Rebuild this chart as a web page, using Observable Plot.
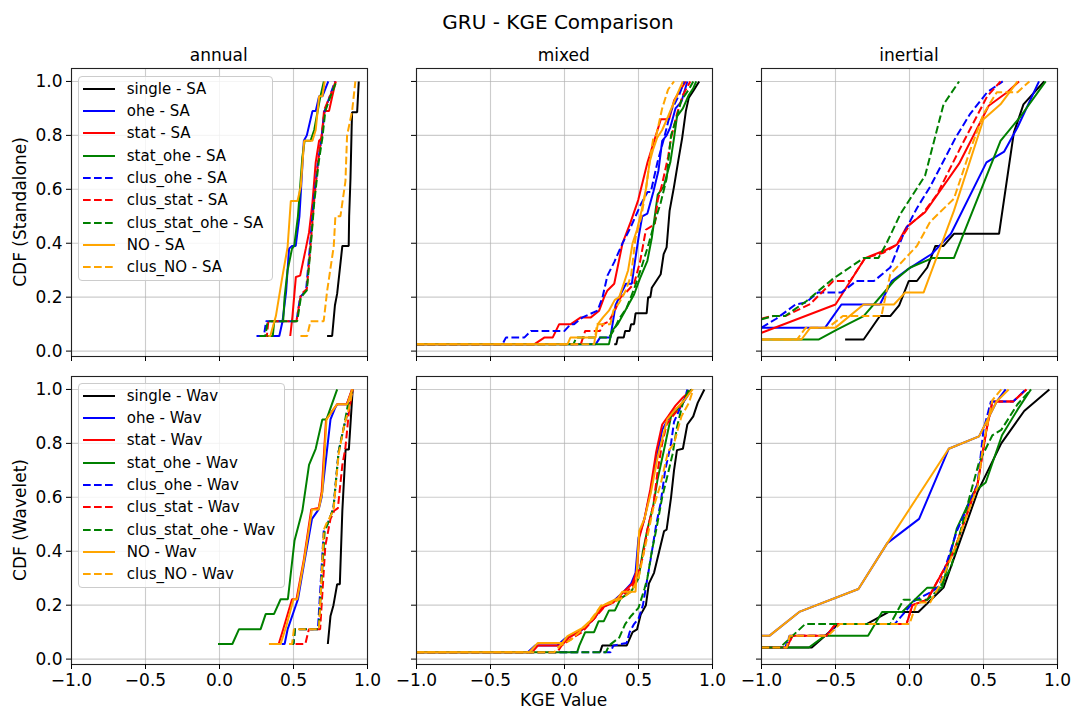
<!DOCTYPE html>
<html><head><meta charset="utf-8">
<script src="https://cdn.jsdelivr.net/npm/d3@7"></script>
<script src="https://cdn.jsdelivr.net/npm/@observablehq/plot@0.6"></script>
<style>
body{margin:0;background:#fff;}
#fig{position:relative;width:1073px;height:709px;font-family:"DejaVu Sans",sans-serif;color:#000;overflow:hidden;background:#fff}
.t{position:absolute;white-space:nowrap;transform:translate(-50%,-50%);line-height:1}
.leg{position:absolute;background:rgba(255,255,255,0.8);border:1px solid #cccccc;border-radius:4px;padding:1px 9px 2px 4px;font-size:15px}
.leg .row{height:22.3px;display:flex;align-items:center;white-space:nowrap}
.leg svg{margin-right:11.5px;flex:none}
</style></head><body><div id="fig"></div><script>
// ---- categories / styles ----
const series = ["single","ohe","stat","stat_ohe","clus_ohe","clus_stat","clus_stat_ohe","NO","clus_NO"];
const colors = ["black","blue","red","green","blue","red","green","orange","orange"];
const dashed = [false,false,false,false,true,true,true,false,true];
const columns = ["annual","mixed","inertial"];
const rowLabels = ["CDF (Standalone)","CDF (Wavelet)"];
const rowSuffix = ["SA","Wav"];
const xTicks = [-1,-0.5,0,0.5,1];
const yTicks = [0,0.2,0.4,0.6,0.8,1.0];

// ---- series values: [KGE, CDF] points, in the order of `series` ----
const annualSA = [
 [[0.727,0.056],[0.761,0.056],[0.78,0.17],[0.795,0.213],[0.83,0.39],[0.873,0.39],[0.876,0.5],[0.885,0.64],[0.893,0.83],[0.896,0.886],[0.93,0.886],[0.941,1.0]],
 [[0.348,0.056],[0.404,0.056],[0.426,0.111],[0.45,0.22],[0.47,0.38],[0.49,0.39],[0.515,0.39],[0.54,0.5],[0.57,0.78],[0.59,0.8],[0.628,0.89],[0.65,0.89],[0.673,0.945],[0.695,0.945],[0.735,1.0]],
 [[0.478,0.056],[0.493,0.13],[0.516,0.275],[0.545,0.28],[0.583,0.38],[0.605,0.44],[0.628,0.55],[0.65,0.7],[0.673,0.78],[0.69,0.79],[0.706,0.89],[0.74,0.89],[0.762,0.945],[0.785,1.0]],
 [[0.31,0.056],[0.36,0.056],[0.37,0.111],[0.43,0.111],[0.44,0.2],[0.46,0.3],[0.49,0.38],[0.505,0.39],[0.53,0.5],[0.56,0.72],[0.575,0.78],[0.615,0.78],[0.64,0.82],[0.68,0.94],[0.705,1.0]],
 [[0.25,0.056],[0.3,0.056],[0.315,0.111],[0.52,0.111],[0.545,0.2],[0.585,0.225],[0.61,0.38],[0.635,0.55],[0.665,0.7],[0.69,0.79],[0.71,0.89],[0.745,0.945],[0.78,1.0]],
 [[0.29,0.056],[0.32,0.056],[0.33,0.111],[0.52,0.111],[0.55,0.21],[0.59,0.23],[0.615,0.39],[0.64,0.56],[0.668,0.71],[0.69,0.8],[0.712,0.9],[0.75,0.95],[0.785,1.0]],
 [[0.27,0.056],[0.31,0.056],[0.325,0.111],[0.525,0.111],[0.55,0.2],[0.59,0.225],[0.615,0.38],[0.64,0.55],[0.67,0.7],[0.695,0.79],[0.715,0.89],[0.75,0.945],[0.79,1.0]],
 [[0.33,0.056],[0.343,0.056],[0.381,0.13],[0.426,0.28],[0.46,0.385],[0.482,0.557],[0.527,0.557],[0.549,0.61],[0.572,0.78],[0.628,0.78],[0.65,0.82],[0.673,0.945],[0.695,0.945],[0.711,1.0]],
 [[0.547,0.056],[0.592,0.056],[0.615,0.111],[0.704,0.111],[0.727,0.222],[0.772,0.389],[0.783,0.5],[0.817,0.5],[0.851,0.63],[0.862,0.8],[0.896,0.89],[0.918,1.0]]
];
const mixedSA = [
 [[0.336,0.025],[0.35,0.025],[0.36,0.05],[0.40,0.05],[0.41,0.075],[0.44,0.075],[0.45,0.1],[0.47,0.1],[0.48,0.14],[0.555,0.14],[0.565,0.2],[0.58,0.2],[0.59,0.235],[0.62,0.26],[0.65,0.285],[0.67,0.36],[0.69,0.385],[0.71,0.52],[0.74,0.61],[0.77,0.71],[0.795,0.79],[0.82,0.89],[0.84,0.94],[0.87,0.965],[0.91,1.0]],
 [[-1,0.025],[0.21,0.025],[0.24,0.05],[0.31,0.05],[0.345,0.17],[0.37,0.2],[0.415,0.25],[0.455,0.25],[0.47,0.31],[0.5,0.42],[0.525,0.5],[0.56,0.51],[0.6,0.59],[0.635,0.67],[0.66,0.78],[0.69,0.8],[0.715,0.83],[0.75,0.9],[0.79,0.925],[0.83,1.0]],
 [[-1,0.025],[-0.205,0.025],[-0.137,0.05],[-0.08,0.05],[-0.036,0.1],[0.043,0.1],[0.11,0.125],[0.178,0.125],[0.234,0.15],[0.268,0.2],[0.29,0.225],[0.336,0.25],[0.392,0.4],[0.448,0.48],[0.498,0.56],[0.561,0.7],[0.651,0.86],[0.707,0.86],[0.741,0.93],[0.79,0.975],[0.82,1.0]],
 [[-1,0.025],[0.3,0.025],[0.32,0.075],[0.36,0.1],[0.41,0.15],[0.44,0.18],[0.47,0.21],[0.51,0.27],[0.56,0.335],[0.59,0.42],[0.61,0.5],[0.63,0.58],[0.67,0.61],[0.715,0.7],[0.74,0.79],[0.76,0.87],[0.8,0.9],[0.84,0.95],[0.87,0.975],[0.89,1.0]],
 [[-1,0.025],[-0.42,0.025],[-0.396,0.05],[-0.272,0.05],[-0.227,0.075],[0.0,0.075],[0.043,0.1],[0.065,0.1],[0.122,0.125],[0.223,0.15],[0.257,0.2],[0.29,0.28],[0.336,0.33],[0.392,0.4],[0.448,0.46],[0.516,0.545],[0.561,0.59],[0.583,0.59],[0.628,0.7],[0.673,0.79],[0.718,0.89],[0.775,0.95],[0.809,1.0]],
 [[-1,0.025],[0.11,0.025],[0.14,0.075],[0.24,0.075],[0.26,0.1],[0.3,0.11],[0.34,0.15],[0.38,0.2],[0.42,0.22],[0.47,0.25],[0.51,0.33],[0.55,0.45],[0.61,0.47],[0.63,0.56],[0.66,0.62],[0.7,0.72],[0.72,0.79],[0.76,0.88],[0.8,0.95],[0.85,1.0]],
 [[-1,0.025],[0.06,0.025],[0.08,0.05],[0.3,0.05],[0.33,0.075],[0.37,0.12],[0.42,0.16],[0.47,0.23],[0.52,0.31],[0.57,0.4],[0.61,0.48],[0.65,0.55],[0.69,0.64],[0.71,0.75],[0.72,0.8],[0.76,0.87],[0.79,0.93],[0.84,0.97],[0.87,1.0]],
 [[-1,0.025],[0.02,0.025],[0.04,0.05],[0.21,0.05],[0.225,0.1],[0.26,0.125],[0.3,0.15],[0.34,0.19],[0.37,0.2],[0.4,0.25],[0.43,0.3],[0.46,0.4],[0.49,0.45],[0.52,0.52],[0.55,0.6],[0.575,0.7],[0.6,0.75],[0.625,0.79],[0.66,0.82],[0.7,0.87],[0.76,0.95],[0.8,1.0]],
 [[-1,0.025],[0.2,0.025],[0.22,0.1],[0.31,0.1],[0.33,0.15],[0.37,0.18],[0.41,0.22],[0.45,0.28],[0.48,0.42],[0.52,0.5],[0.55,0.6],[0.58,0.72],[0.6,0.79],[0.62,0.8],[0.66,0.9],[0.7,0.97],[0.74,1.0]]
];
const inertialSA = [
 [[-0.435,0.043],[-0.31,0.043],[-0.2,0.13],[-0.13,0.13],[-0.07,0.17],[-0.005,0.26],[0.05,0.26],[0.12,0.31],[0.175,0.39],[0.23,0.39],[0.3,0.435],[0.605,0.435],[0.705,0.81],[0.77,0.915],[0.91,1.0]],
 [[-1,0.087],[-0.57,0.087],[-0.46,0.173],[-0.2,0.173],[-0.12,0.26],[-0.02,0.3],[0.15,0.36],[0.28,0.435],[0.52,0.7],[0.64,0.74],[0.73,0.83],[0.875,1.0]],
 [[-1,0.068],[-0.5,0.173],[-0.3,0.345],[-0.16,0.375],[-0.085,0.395],[-0.02,0.46],[0.105,0.515],[0.335,0.695],[0.535,0.91],[0.66,0.96],[0.74,1.0]],
 [[-1,0.043],[-0.615,0.043],[-0.49,0.08],[-0.31,0.13],[-0.105,0.26],[0.005,0.31],[0.155,0.345],[0.3,0.345],[0.615,0.78],[0.75,0.87],[0.92,1.0]],
 [[-1,0.087],[-0.9,0.12],[-0.77,0.173],[-0.7,0.18],[-0.62,0.217],[-0.46,0.217],[-0.36,0.26],[-0.24,0.26],[-0.13,0.31],[-0.04,0.435],[0.05,0.53],[0.14,0.61],[0.31,0.79],[0.41,0.88],[0.525,0.96],[0.63,1.0]],
 [[-1,0.12],[-0.93,0.13],[-0.84,0.13],[-0.67,0.175],[-0.515,0.26],[-0.4,0.26],[-0.3,0.345],[-0.175,0.365],[-0.085,0.395],[0.005,0.47],[0.09,0.51],[0.185,0.58],[0.345,0.755],[0.525,0.945],[0.615,1.0]],
 [[-1,0.118],[-0.92,0.13],[-0.84,0.13],[-0.695,0.186],[-0.525,0.265],[-0.31,0.345],[-0.21,0.345],[-0.155,0.4],[-0.06,0.51],[0.105,0.65],[0.23,0.915],[0.335,1.0]],
 [[-1,0.043],[-0.73,0.043],[-0.67,0.087],[-0.5,0.087],[-0.31,0.173],[-0.105,0.173],[-0.03,0.217],[0.095,0.217],[0.3,0.52],[0.5,0.86],[0.615,0.915],[0.73,1.0]],
 [[-1,0.043],[-0.76,0.043],[-0.7,0.087],[-0.55,0.087],[-0.45,0.13],[-0.19,0.13],[-0.13,0.285],[0.05,0.39],[0.14,0.48],[0.3,0.565],[0.41,0.745],[0.5,0.88],[0.59,0.96],[0.73,0.96],[0.81,1.0]]
];
const annualWav = [
 [[0.732,0.056],[0.75,0.16],[0.77,0.2],[0.795,0.278],[0.813,0.278],[0.83,0.55],[0.852,0.777],[0.874,0.777],[0.9,1.0]],
 [[0.42,0.056],[0.44,0.056],[0.46,0.11],[0.53,0.222],[0.57,0.35],[0.625,0.52],[0.67,0.555],[0.69,0.6],[0.75,0.889],[0.78,0.93],[0.795,0.945],[0.86,0.945],[0.897,1.0]],
 [[0.4,0.056],[0.43,0.11],[0.49,0.222],[0.52,0.222],[0.57,0.37],[0.62,0.555],[0.67,0.56],[0.69,0.62],[0.72,0.889],[0.795,0.945],[0.86,0.945],[0.895,1.0]],
 [[-0.01,0.056],[0.087,0.056],[0.132,0.111],[0.278,0.111],[0.312,0.167],[0.368,0.167],[0.413,0.222],[0.462,0.222],[0.507,0.44],[0.56,0.55],[0.605,0.72],[0.65,0.78],[0.695,0.889],[0.723,0.889],[0.795,1.0]],
 [[0.48,0.056],[0.5,0.056],[0.51,0.111],[0.665,0.111],[0.705,0.48],[0.73,0.5],[0.77,0.56],[0.805,0.77],[0.84,0.86],[0.875,0.93],[0.9,1.0]],
 [[0.514,0.056],[0.58,0.056],[0.604,0.111],[0.68,0.111],[0.715,0.42],[0.75,0.52],[0.775,0.55],[0.8,0.56],[0.83,0.72],[0.85,0.78],[0.875,0.92],[0.9,1.0]],
 [[0.48,0.056],[0.5,0.056],[0.51,0.111],[0.67,0.111],[0.71,0.47],[0.73,0.5],[0.77,0.56],[0.805,0.77],[0.84,0.86],[0.87,0.95],[0.9,1.0]],
 [[0.334,0.056],[0.413,0.056],[0.45,0.12],[0.5,0.222],[0.525,0.222],[0.57,0.36],[0.625,0.555],[0.67,0.555],[0.695,0.62],[0.723,0.889],[0.795,0.945],[0.863,0.945],[0.897,1.0]],
 [[0.47,0.056],[0.49,0.056],[0.503,0.111],[0.672,0.111],[0.705,0.48],[0.72,0.5],[0.77,0.55],[0.805,0.76],[0.84,0.86],[0.875,0.93],[0.9,1.0]]
];
const mixedWav = [
 [[0.24,0.025],[0.255,0.05],[0.42,0.05],[0.44,0.075],[0.46,0.1],[0.49,0.11],[0.515,0.165],[0.55,0.2],[0.57,0.28],[0.605,0.32],[0.64,0.4],[0.673,0.475],[0.69,0.48],[0.72,0.6],[0.74,0.7],[0.76,0.775],[0.8,0.78],[0.83,0.87],[0.87,0.9],[0.9,0.95],[0.945,1.0]],
 [[-1,0.025],[-0.25,0.025],[-0.2,0.05],[-0.05,0.05],[0.0,0.075],[0.1,0.1],[0.2,0.15],[0.25,0.19],[0.32,0.21],[0.4,0.25],[0.45,0.28],[0.48,0.32],[0.5,0.45],[0.54,0.52],[0.58,0.62],[0.62,0.74],[0.66,0.85],[0.7,0.89],[0.74,0.92],[0.8,0.95],[0.86,1.0]],
 [[-1,0.025],[-0.22,0.025],[-0.18,0.05],[-0.02,0.05],[0.03,0.08],[0.12,0.11],[0.2,0.15],[0.25,0.19],[0.33,0.21],[0.4,0.25],[0.46,0.28],[0.49,0.33],[0.505,0.45],[0.54,0.52],[0.58,0.63],[0.62,0.77],[0.66,0.87],[0.7,0.9],[0.75,0.94],[0.8,0.97],[0.86,1.0]],
 [[-1,0.025],[0.085,0.025],[0.1,0.05],[0.12,0.075],[0.14,0.1],[0.2,0.1],[0.23,0.14],[0.265,0.14],[0.3,0.18],[0.34,0.18],[0.38,0.225],[0.45,0.25],[0.5,0.3],[0.53,0.4],[0.56,0.48],[0.6,0.57],[0.63,0.67],[0.67,0.77],[0.72,0.9],[0.77,0.93],[0.83,0.98],[0.86,1.0]],
 [[-1,0.025],[0.31,0.025],[0.33,0.05],[0.42,0.06],[0.44,0.1],[0.47,0.13],[0.5,0.15],[0.53,0.2],[0.56,0.3],[0.585,0.38],[0.62,0.5],[0.65,0.58],[0.68,0.7],[0.72,0.8],[0.74,0.88],[0.78,0.93],[0.81,0.96],[0.83,1.0]],
 [[-1,0.025],[-0.05,0.025],[-0.02,0.05],[0.06,0.08],[0.12,0.1],[0.2,0.15],[0.28,0.2],[0.36,0.22],[0.42,0.25],[0.46,0.27],[0.5,0.32],[0.53,0.38],[0.56,0.48],[0.6,0.57],[0.63,0.7],[0.66,0.8],[0.69,0.87],[0.73,0.9],[0.79,0.94],[0.85,1.0]],
 [[-1,0.025],[0.28,0.025],[0.3,0.05],[0.37,0.08],[0.41,0.13],[0.45,0.16],[0.5,0.19],[0.54,0.26],[0.56,0.3],[0.59,0.4],[0.62,0.48],[0.66,0.6],[0.7,0.69],[0.73,0.76],[0.76,0.86],[0.8,0.95],[0.84,1.0]],
 [[-1,0.025],[-0.24,0.025],[-0.18,0.06],[-0.015,0.06],[0.02,0.085],[0.12,0.115],[0.19,0.15],[0.245,0.195],[0.3,0.21],[0.36,0.225],[0.39,0.25],[0.48,0.25],[0.505,0.475],[0.54,0.52],[0.585,0.62],[0.63,0.75],[0.695,0.89],[0.74,0.92],[0.81,0.96],[0.865,1.0]],
 [[-1,0.025],[-0.07,0.025],[-0.03,0.05],[0.04,0.07],[0.1,0.1],[0.17,0.14],[0.25,0.2],[0.33,0.21],[0.4,0.23],[0.45,0.25],[0.5,0.3],[0.53,0.38],[0.57,0.48],[0.6,0.56],[0.65,0.65],[0.7,0.77],[0.74,0.8],[0.79,0.9],[0.84,0.95],[0.87,1.0]]
];
const inertialWav = [
 [[-1,0.043],[-0.66,0.043],[-0.48,0.13],[-0.29,0.13],[-0.14,0.175],[0.06,0.175],[0.23,0.265],[0.46,0.62],[0.62,0.8],[0.775,0.92],[0.945,1.0]],
 [[-1,0.087],[-0.945,0.087],[-0.745,0.175],[-0.345,0.26],[-0.15,0.43],[0.065,0.52],[0.265,0.78],[0.47,0.826],[0.59,0.956],[0.65,1.0]],
 [[-1,0.043],[-0.83,0.043],[-0.79,0.087],[-0.56,0.087],[-0.5,0.13],[-0.02,0.13],[0.02,0.2],[0.12,0.22],[0.2,0.3],[0.3,0.4],[0.46,0.65],[0.52,0.85],[0.56,0.955],[0.7,0.955],[0.79,1.0]],
 [[-1,0.043],[-0.68,0.043],[-0.57,0.087],[-0.28,0.087],[-0.185,0.175],[-0.05,0.175],[0.12,0.265],[0.22,0.265],[0.32,0.485],[0.435,0.62],[0.515,0.655],[0.625,0.83],[0.73,0.925],[0.82,1.0]],
 [[-1,0.043],[-0.84,0.043],[-0.81,0.087],[-0.56,0.087],[-0.49,0.13],[-0.1,0.13],[-0.03,0.175],[0.03,0.215],[0.15,0.25],[0.2,0.27],[0.32,0.475],[0.46,0.65],[0.5,0.85],[0.55,0.955],[0.7,0.955],[0.785,1.0]],
 [[-1,0.043],[-0.83,0.043],[-0.79,0.087],[-0.56,0.087],[-0.5,0.13],[-0.02,0.13],[0.02,0.2],[0.12,0.22],[0.2,0.3],[0.3,0.4],[0.46,0.65],[0.52,0.85],[0.56,0.955],[0.7,0.955],[0.79,1.0]],
 [[-1,0.043],[-0.875,0.043],[-0.705,0.13],[-0.13,0.13],[-0.04,0.22],[0.12,0.22],[0.2,0.26],[0.28,0.34],[0.41,0.61],[0.47,0.73],[0.56,0.83],[0.62,0.85],[0.73,0.945],[0.82,1.0]],
 [[-1,0.087],[-0.945,0.087],[-0.745,0.175],[-0.345,0.26],[-0.15,0.43],[0.265,0.78],[0.47,0.826],[0.59,0.956],[0.67,1.0]],
 [[-1,0.043],[-0.83,0.043],[-0.81,0.087],[-0.55,0.087],[-0.47,0.13],[0.0,0.13],[0.05,0.21],[0.14,0.21],[0.2,0.27],[0.3,0.4],[0.46,0.64],[0.5,0.8],[0.56,0.96],[0.62,1.0]]
];
const panels = [[annualSA, mixedSA, inertialSA],[annualWav, mixedWav, inertialWav]];

// ---- layout ----
const fig = document.getElementById("fig");
const colLeft = [70.7, 415.7, 761];
const rowTop = [68, 375.5];
const PW = 296, PH = 288;
const mL = 52, mR = 8, mT = 8, mB = 34;
const fmt = d3.format(".1f");
const dash = "7.7,3.3";

function text(str, x, y, size, extra){
  const d = document.createElement("div");
  d.className = "t";
  d.textContent = str;
  d.style.left = x + "px"; d.style.top = y + "px"; d.style.fontSize = size + "px";
  if (extra) d.style.transform = extra;
  fig.appendChild(d);
}

for (let r = 0; r < 2; r++) {
  for (let c = 0; c < 3; c++) {
    const data = panels[r][c];
    const marks = [
      Plot.gridX(xTicks, {stroke: "#b0b0b0", strokeOpacity: 0.65, strokeWidth: 1.1}),
      Plot.gridY(yTicks, {stroke: "#b0b0b0", strokeOpacity: 0.65, strokeWidth: 1.1})
    ];
    data.forEach((pts, i) => {
      marks.push(Plot.line(pts, {
        x: d => d[0], y: d => d[1],
        stroke: colors[i], strokeWidth: 2,
        strokeDasharray: dashed[i] ? dash : null,
        strokeLinejoin: "miter", strokeLinecap: "butt",
        clip: true
      }));
    });
    marks.push(Plot.frame({stroke: "#222", strokeWidth: 1.1}));
    marks.push(Plot.axisX(xTicks, {tickSize: 5, tickPadding: 4, label: null,
      tickFormat: r === 1 ? fmt : () => "", fontSize: 17}));
    marks.push(Plot.axisY(yTicks, {tickSize: 5, tickPadding: 4, label: null,
      tickFormat: c === 0 ? fmt : () => "", fontSize: 17}));
    const svg = Plot.plot({
      width: PW + mL + mR, height: PH + mT + mB,
      marginLeft: mL, marginRight: mR, marginTop: mT, marginBottom: mB,
      x: {domain: [-1, 1]},
      y: {domain: [-0.02, 1.048]},
      style: {background: "transparent", fontFamily: "DejaVu Sans", fontSize: "17px", color: "#000", overflow: "visible"},
      marks
    });
    svg.style.position = "absolute";
    svg.style.left = (colLeft[c] - mL) + "px";
    svg.style.top = (rowTop[r] - mT) + "px";
    svg.style.maxWidth = "none";
    fig.appendChild(svg);
  }
}

// legends (first column)
for (let r = 0; r < 2; r++) {
  const leg = document.createElement("div");
  leg.className = "leg";
  leg.style.left = "78.3px";
  leg.style.top = (r === 0 ? 75.7 : 382.7) + "px";
  series.forEach((s, i) => {
    const row = document.createElement("div");
    row.className = "row";
    row.innerHTML = `<svg width="32" height="10"><line x1="0" y1="5" x2="32" y2="5" stroke="${colors[i]}" stroke-width="2" ${dashed[i] ? `stroke-dasharray="${dash}"` : ""}/></svg><span>${s} - ${rowSuffix[r]}</span>`;
    leg.appendChild(row);
  });
  fig.appendChild(leg);
}

// titles
text("GRU - KGE Comparison", 558, 22, 20);
columns.forEach((t, c) => text(t, colLeft[c] + PW / 2, 55, 17));
text("KGE Value", 563.7, 700, 17);
text(rowLabels[0], 20, 212, 17, "translate(-50%,-50%) rotate(-90deg)");
text(rowLabels[1], 20, 519.5, 17, "translate(-50%,-50%) rotate(-90deg)");
</script></body></html>
